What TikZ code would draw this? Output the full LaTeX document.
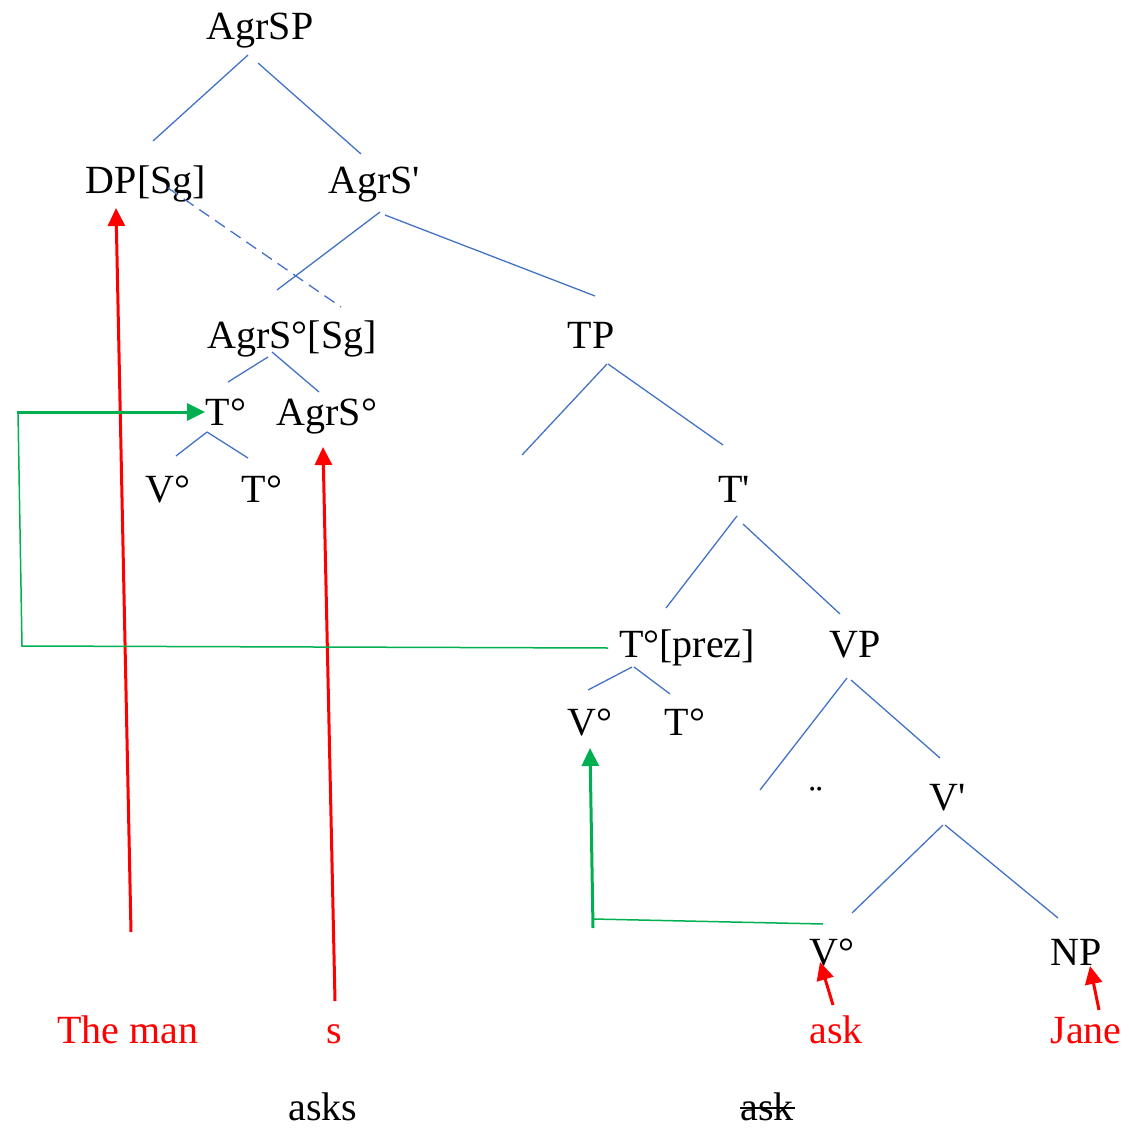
\documentclass[tikz,border=0pt]{standalone}
\usepackage{fontspec}
\setmainfont{Liberation Serif}
\usetikzlibrary{arrows.meta}
\definecolor{treeblue}{HTML}{4472C4}
\definecolor{movegreen}{HTML}{00B050}
\definecolor{wordred}{HTML}{FF0000}
\begin{document}
\begin{tikzpicture}[x=1pt,y=-1pt,
  lbl/.style={anchor=base,inner sep=0pt,font=\fontsize{40}{48}\selectfont},
  redlbl/.style={lbl,text=wordred},
  branch/.style={draw=treeblue,line width=1.3pt},
  redarrow/.style={draw=wordred,line width=3pt,-{Triangle[length=18pt,width=17pt]}},
  greenthick/.style={draw=movegreen,line width=3pt},
  greenthin/.style={draw=movegreen,line width=1.5pt},
  greentip/.style={-{Triangle[length=18pt,width=17pt]}}]
\useasboundingbox (0,0) rectangle (1128,1131);
% nodes
\node[lbl] (agrsp) at (260,40) {AgrSP};
\node[lbl] (dp) at (146,194) {DP[Sg]};
\node[lbl] (agrsbar) at (374,194) {AgrS\textquotesingle};
\node[lbl] (agrssg) at (292,348) {AgrS°[Sg]};
\node[lbl] (tp) at (591,348) {TP};
\node[lbl] (t1) at (226,425) {T°};
\node[lbl] (agrs0) at (327,425) {AgrS°};
\node[lbl] (v1) at (168,502) {V°};
\node[lbl] (t2) at (262,502) {T°};
\node[lbl] (tbar) at (734,502) {T\textquotesingle};
\node[lbl] (tprez) at (687,657) {T°[prez]};
\node[lbl] (vp) at (855,657) {VP};
\node[lbl] (v2) at (590,735) {V°};
\node[lbl] (t3) at (685,735) {T°};
\node[lbl] (dots) at (816,812) {¨};
\node[lbl] (vbar) at (948,810) {V\textquotesingle};
\node[lbl] (v3) at (832,965) {V°};
\node[lbl] (np) at (1076,965) {NP};
\node[redlbl] (theman) at (128,1043) {The man};
\node[redlbl] (s) at (334,1043) {s};
\node[redlbl] (ask) at (836,1043) {ask};
\node[redlbl] (jane) at (1086,1043) {Jane};
\node[lbl] (asks) at (323,1120) {asks};
\node[lbl] (askstruck) at (767,1120) {ask};
\draw[line width=1.2pt] (740,1108) -- (795,1108);
% tree branches
\draw[branch] (248,55) -- (153,141);
\draw[branch] (258,63) -- (361,154);
\draw[branch] (380,212) -- (277,290);
\draw[branch] (385,215) -- (595,296);
\draw[branch,dash pattern=on 12pt off 7pt] (168,188) -- (341,307);
\draw[branch] (268,357) -- (228,382);
\draw[branch] (272,352) -- (319,392);
\draw[branch] (207,432) -- (176,456);
\draw[branch] (207,432) -- (248,458);
\draw[branch] (607,364) -- (522,455);
\draw[branch] (608,364) -- (723,445);
\draw[branch] (737,516) -- (666,608);
\draw[branch] (743,524) -- (840,614);
\draw[branch] (632,667) -- (588,690);
\draw[branch] (634,667) -- (670,694);
\draw[branch] (847,678) -- (760,790);
\draw[branch] (851,680) -- (940,758);
\draw[branch] (943,825) -- (852,913);
\draw[branch] (945,825) -- (1058,918);
% red arrows
\coordinate (themantail) at (131,932);
\coordinate (stail) at (335,1001);
\draw[redarrow] (themantail) -- (116,208);
\draw[redarrow] (stail) -- (323,447);
\draw[redarrow] (833,1005) -- (820,962);
\draw[redarrow] (1099,1010) -- (1090,966);
% green movements
\coordinate (g1) at (608,648);
\coordinate (g2) at (22,646);
\coordinate (g3) at (18,412);
\draw[greenthin] (g1) -- (g2) -- (g3);
\draw[greenthick,greentip] (17,412) -- (205,412);
\coordinate (h1) at (823,924);
\coordinate (h2) at (593,919);
\draw[greenthin] (h1) -- (h2);
\draw[greenthick,greentip] (593,928) -- (590,748);
\end{tikzpicture}
\end{document}
